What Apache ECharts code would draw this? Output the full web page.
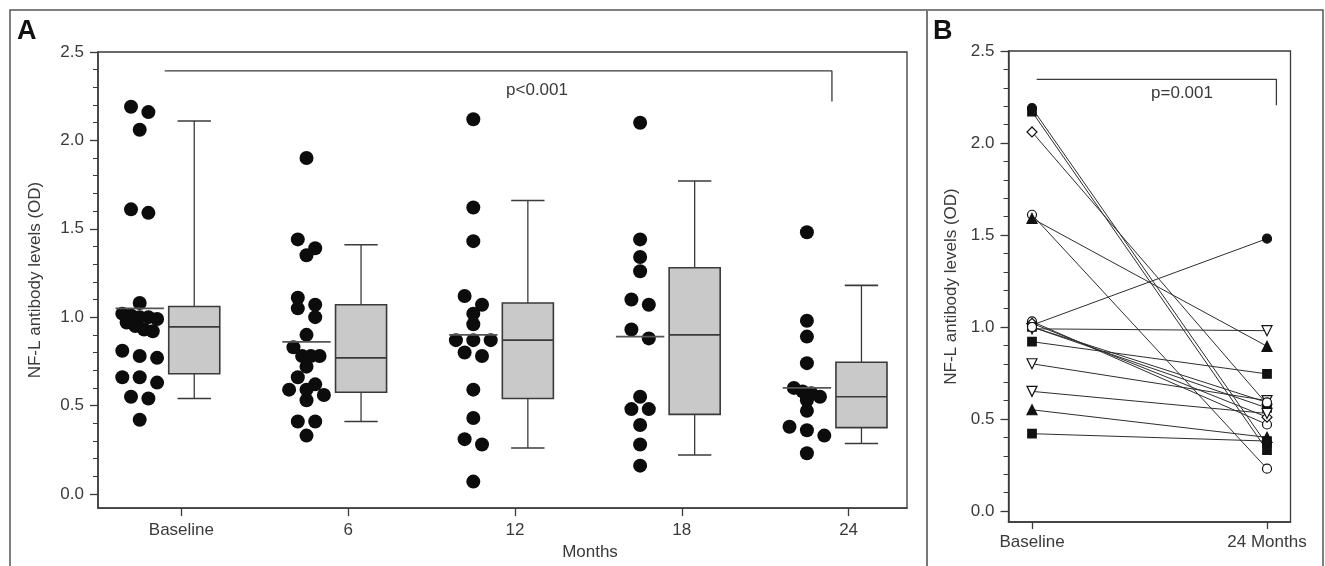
<!DOCTYPE html>
<html><head><meta charset="utf-8">
<script src="https://cdn.jsdelivr.net/npm/echarts@6/dist/echarts.min.js"></script>
<style>html,body{margin:0;padding:0;background:#fff}#c{width:1325px;height:566px}</style>
</head><body><div id="c"></div>
<script>
// ---------------- DATA ----------------
const categoriesA = ['Baseline', '6', '12', '18', '24'];
const dotsBaseline = [2.19, 2.16, 2.06, 1.61, 1.59, 1.08, 1.02, 1.01, 1.00, 1.00, 0.99, 0.97, 0.95, 0.93, 0.92, 0.81, 0.78, 0.77, 0.66, 0.66, 0.63, 0.55, 0.54, 0.42];
const dots6 = [1.90, 1.44, 1.39, 1.35, 1.11, 1.07, 1.05, 1.00, 0.90, 0.83, 0.78, 0.78, 0.78, 0.72, 0.66, 0.62, 0.59, 0.59, 0.56, 0.53, 0.41, 0.41, 0.33];
const dots12 = [2.12, 1.62, 1.43, 1.12, 1.07, 1.02, 0.96, 0.87, 0.87, 0.87, 0.80, 0.78, 0.59, 0.43, 0.31, 0.28, 0.07];
const dots18 = [2.10, 1.44, 1.34, 1.26, 1.10, 1.07, 0.93, 0.88, 0.55, 0.48, 0.48, 0.39, 0.28, 0.16];
const dots24 = [1.48, 0.98, 0.89, 0.74, 0.60, 0.58, 0.57, 0.55, 0.53, 0.47, 0.38, 0.36, 0.33, 0.23];
const meansA = [1.05, 0.86, 0.90, 0.89, 0.60];
// box plot statistics: lower whisker, Q1, median, Q3, upper whisker
const whiskerLowA = [0.54, 0.41, 0.26, 0.22, 0.285];
const q1A = [0.68, 0.575, 0.54, 0.45, 0.375];
const medianA = [0.945, 0.77, 0.87, 0.90, 0.55];
const q3A = [1.06, 1.07, 1.08, 1.28, 0.745];
const whiskerHighA = [2.11, 1.41, 1.66, 1.77, 1.18];
const pTextA = 'p<0.001';

const categoriesB = ['Baseline', '24 Months'];
const bBaseline = [2.19, 2.17, 2.06, 1.61, 1.59, 0.99, 1.01, 1.03, 1.02, 1.00, 0.92, 0.80, 0.65, 0.55, 0.42, 1.00];
const b24Months = [0.36, 0.33, 0.58, 0.23, 0.895, 0.98, 1.48, 0.47, 0.51, 0.56, 0.745, 0.60, 0.53, 0.40, 0.38, 0.59];
const bMarker = ['filledCircle', 'filledSquare', 'openDiamond', 'openCircle', 'filledTriangle', 'openInvTriangle', 'filledCircle', 'openCircle', 'openDiamond', 'filledSquare', 'filledSquare', 'openInvTriangle', 'openInvTriangle', 'filledTriangle', 'filledSquare', 'openCircle'];
const pTextB = 'p=0.001';

const yTicksMajor = [0, 0.5, 1.0, 1.5, 2.0, 2.5];
const yTicksMinor = [0,0.1,0.2,0.3,0.4,0.5,0.6,0.7,0.8,0.9,1.0,1.1,1.2,1.3,1.4,1.5,1.6,1.7,1.8,1.9,2.0,2.1,2.2,2.3,2.4,2.5];

// ---------------- LAYOUT / STYLE ----------------
const FONT = '"Liberation Sans", Arial, Helvetica, sans-serif';
const TXT = '#3a3a3a';
const LN = '#3a3a3a';
const gridA = {left: 98, top: 52, width: 809, height: 461};
const xRangeA = [-0.5, 4.35];
const yRangeA = [-0.08, 2.5];
const gridB = {left: 1008.5, top: 51, width: 282, height: 471};
const xRangeB = [-0.1, 1.1];
const yRangeB = [-0.06, 2.5];
const DOT_OFF = -0.25, BOX_OFF = 0.077, BOX_W = 0.306, CAP_W = 0.2, MEAN_W = 0.29;
const DOT_SIZE = 14;

const pxX = gridA.width / (xRangeA[1] - xRangeA[0]);
const pxY = gridA.height / (yRangeA[1] - yRangeA[0]);

// row-based dot-plot layout: dots with nearly equal values are spread side by side
function swarm(values, rowTol, maxRow) {
  const order = values.map((v, i) => i).sort((a, b) => values[b] - values[a]);
  const rows = [];
  let cur = null;
  order.forEach(i => {
    if (cur && (values[cur[0]] - values[i]) * pxY <= rowTol && cur.length < maxRow) cur.push(i);
    else { cur = [i]; rows.push(cur); }
  });
  const off = new Array(values.length).fill(0);
  rows.forEach(r => {
    const n = r.length;
    const sp = n <= 3 ? 17.4 : 8.7;
    r.forEach((idx, j) => { off[idx] = (j - (n - 1) / 2) * sp; });
  });
  return off;
}
const groupsA = [dotsBaseline, dots6, dots12, dots18, dots24];
const dotData = [];
groupsA.forEach((vals, g) => {
  const off = swarm(vals, 9.5, 5);
  vals.forEach((v, i) => dotData.push([g + DOT_OFF + off[i] / pxX, v]));
});

const boxData = categoriesA.map((c, i) => [i, whiskerLowA[i], q1A[i], medianA[i], q3A[i], whiskerHighA[i]]);
const meanData = meansA.map((m, i) => [i, m]);

function lineEl(p1, p2, w, color) {
  return {type: 'line', shape: {x1: p1[0], y1: p1[1], x2: p2[0], y2: p2[1]}, style: {stroke: color || LN, lineWidth: w || 1.3}};
}

const axisTxt = {color: TXT, fontSize: 17, fontFamily: FONT};

function yAxes(gridIndex, range, gap) {
  return [{
    gridIndex, type: 'value', min: range[0], max: range[1], position: 'left',
    splitLine: {show: false},
    axisLine: {show: true, onZero: false, lineStyle: {color: LN, width: 1.5}},
    axisTick: {show: true, customValues: yTicksMajor, length: 8, lineStyle: {color: LN, width: 1.3}},
    axisLabel: Object.assign({customValues: yTicksMajor, formatter: v => v.toFixed(1), margin: 14}, axisTxt),
    name: 'NF-L antibody levels (OD)', nameLocation: 'middle', nameGap: gap, nameRotate: 90,
    nameTextStyle: axisTxt
  }, {
    gridIndex, type: 'value', min: range[0], max: range[1], position: 'left', offset: 0,
    splitLine: {show: false},
    axisLine: {show: false, onZero: false},
    axisTick: {show: true, customValues: yTicksMinor, length: 5, lineStyle: {color: LN, width: 1}},
    axisLabel: {show: false}
  }];
}

const markerStyles = {
  filledCircle: {symbol: 'circle', size: 9, fill: '#111', rotate: 0},
  openCircle: {symbol: 'circle', size: 9, fill: '#fff', rotate: 0},
  filledSquare: {symbol: 'rect', size: 8.5, fill: '#111', rotate: 0},
  filledTriangle: {symbol: 'triangle', size: 10, fill: '#111', rotate: 0},
  openInvTriangle: {symbol: 'triangle', size: 10, fill: '#fff', rotate: 180},
  openDiamond: {symbol: 'diamond', size: 10, fill: '#fff', rotate: 0}
};

const seriesB = [];
bBaseline.forEach((b, i) => {
  seriesB.push({
    type: 'line', xAxisIndex: 1, yAxisIndex: 2, data: [[0, b], [1, b24Months[i]]],
    showSymbol: false, symbol: 'none', lineStyle: {color: '#2e2e2e', width: 1}, z: 2, silent: true
  });
});
bBaseline.forEach((b, i) => {
  const m = markerStyles[bMarker[i]];
  seriesB.push({
    type: 'scatter', xAxisIndex: 1, yAxisIndex: 2, data: [[0, b], [1, b24Months[i]]],
    symbol: m.symbol, symbolSize: m.size, symbolRotate: m.rotate,
    itemStyle: {color: m.fill, borderColor: '#111', borderWidth: 1.2, opacity: 1}, z: 5, silent: true
  });
});

const option = {
  animation: false,
  backgroundColor: '#fff',
  grid: [
    Object.assign({show: true, borderColor: LN, borderWidth: 1.3, backgroundColor: 'transparent'}, gridA),
    Object.assign({show: true, borderColor: LN, borderWidth: 1.3, backgroundColor: 'transparent'}, gridB)
  ],
  xAxis: [{
    gridIndex: 0, type: 'value', min: xRangeA[0], max: xRangeA[1],
    splitLine: {show: false},
    axisLine: {onZero: false, lineStyle: {color: LN, width: 1.5}},
    axisTick: {customValues: [0, 1, 2, 3, 4], length: 8, lineStyle: {color: LN, width: 1.3}},
    axisLabel: Object.assign({customValues: [0, 1, 2, 3, 4], formatter: v => categoriesA[Math.round(v)], margin: 14}, axisTxt),
    name: 'Months', nameLocation: 'middle', nameGap: 30,
    nameTextStyle: Object.assign({padding: [0, 0, 0, 175]}, axisTxt)
  }, {
    gridIndex: 1, type: 'value', min: xRangeB[0], max: xRangeB[1],
    splitLine: {show: false},
    axisLine: {onZero: false, lineStyle: {color: LN, width: 1.5}},
    axisTick: {customValues: [0, 1], length: 7, lineStyle: {color: LN, width: 1.3}},
    axisLabel: Object.assign({customValues: [0, 1], formatter: v => categoriesB[Math.round(v)], margin: 12}, axisTxt)
  }],
  yAxis: [].concat(yAxes(0, yRangeA, 54), yAxes(1, yRangeB, 49)),
  graphic: [
    {type: 'rect', shape: {x: 10, y: 10, width: 1313, height: 570}, style: {fill: 'none', stroke: '#555', lineWidth: 1.5}, silent: true},
    {type: 'line', shape: {x1: 927, y1: 10, x2: 927, y2: 566}, style: {stroke: '#777', lineWidth: 2}, silent: true},
    {type: 'text', x: 17, y: 18, style: {text: 'A', font: 'bold 27px ' + FONT, fill: '#111'}},
    {type: 'text', x: 933, y: 18, style: {text: 'B', font: 'bold 27px ' + FONT, fill: '#111'}},
    {type: 'text', x: 537, y: 90, style: {text: pTextA, font: '17px ' + FONT, fill: TXT, align: 'center', verticalAlign: 'middle'}},
    {type: 'text', x: 1182, y: 93, style: {text: pTextB, font: '17px ' + FONT, fill: TXT, align: 'center', verticalAlign: 'middle'}}
  ],
  series: [
    // bracket A
    {type: 'line', xAxisIndex: 0, yAxisIndex: 0, data: [[-0.1, 2.393], [3.9, 2.393], [3.9, 2.22]],
     showSymbol: false, symbol: 'none', lineStyle: {color: LN, width: 1.3}, silent: true},
    // bracket B
    {type: 'line', xAxisIndex: 1, yAxisIndex: 2, data: [[0.02, 2.346], [1.04, 2.346], [1.04, 2.205]],
     showSymbol: false, symbol: 'none', lineStyle: {color: LN, width: 1.3}, silent: true},
    // dots
    {type: 'scatter', xAxisIndex: 0, yAxisIndex: 0, data: dotData, symbol: 'circle', symbolSize: DOT_SIZE,
     itemStyle: {color: '#0c0c0c', opacity: 1}, z: 3, silent: true},
    // mean lines
    {type: 'custom', xAxisIndex: 0, yAxisIndex: 0, data: meanData, z: 4, silent: true,
     renderItem: (params, api) => {
       const g = api.value(0), m = api.value(1);
       const c = api.coord([g + DOT_OFF, m]);
       const hw = api.size([MEAN_W, 0])[0] / 2;
       return lineEl([c[0] - hw, c[1]], [c[0] + hw, c[1]], 1.6, '#555');
     }},
    // box plots
    {type: 'custom', xAxisIndex: 0, yAxisIndex: 0, data: boxData, z: 3, silent: true,
     renderItem: (params, api) => {
       const g = api.value(0);
       const x = g + BOX_OFF;
       const pLo = api.coord([x, api.value(1)]);
       const pQ1 = api.coord([x, api.value(2)]);
       const pMed = api.coord([x, api.value(3)]);
       const pQ3 = api.coord([x, api.value(4)]);
       const pHi = api.coord([x, api.value(5)]);
       const hw = api.size([BOX_W, 0])[0] / 2;
       const cw = api.size([CAP_W, 0])[0] / 2;
       const cx = pMed[0];
       return {type: 'group', children: [
         lineEl([cx, pQ3[1]], [cx, pHi[1]]),
         lineEl([cx, pQ1[1]], [cx, pLo[1]]),
         lineEl([cx - cw, pHi[1]], [cx + cw, pHi[1]], 1.6),
         lineEl([cx - cw, pLo[1]], [cx + cw, pLo[1]], 1.6),
         {type: 'rect', shape: {x: cx - hw, y: pQ3[1], width: 2 * hw, height: pQ1[1] - pQ3[1]},
          style: {fill: '#c9c9c9', stroke: LN, lineWidth: 1.6}},
         lineEl([cx - hw, pMed[1]], [cx + hw, pMed[1]], 1.6)
       ]};
     }}
  ].concat(seriesB)
};

const chart = echarts.init(document.getElementById('c'), null, {renderer: 'canvas'});
chart.setOption(option);
</script>
</body></html>
